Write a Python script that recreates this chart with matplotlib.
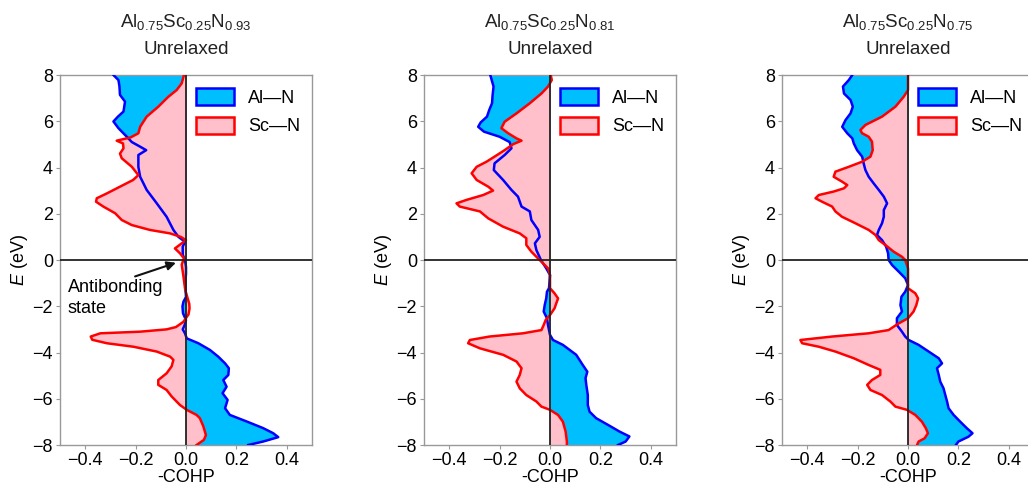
import matplotlib.pyplot as plt
from matplotlib.patches import Patch

plt.rcParams['font.family'] = ['Liberation Sans', 'DejaVu Sans']
plt.rcParams['mathtext.fontset'] = 'custom'
plt.rcParams['mathtext.rm'] = 'Liberation Sans'
plt.rcParams['mathtext.it'] = 'Liberation Sans:italic'

# Panel titles
formulas = ['0.93', '0.81', '0.75']

# Panel 1 (N 0.93)
e_aln_1 = [8, 7.78, 7.5, 7.14, 6.85, 6.42, 6.2, 5.99, 5.7, 5.33, 5.1, 4.9, 4.75, 4.54, 4.03, 3.6, 3.03,
           2.45, 1.87, 1.3, 1.0, 0.79, 0.58, 0.22, 0, -0.3, -0.6, -1.0, -1.6, -1.8, -2.0, -2.3, -2.6, -2.8,
           -3.0, -3.17, -3.39, -3.6, -3.89, -4.18, -4.47, -4.68, -4.97, -5.19, -5.48, -5.76, -6.05, -6.41,
           -6.7, -6.98, -7.27, -7.49, -7.66, -7.85, -8]
aln_1 = [-0.288, -0.268, -0.264, -0.262, -0.242, -0.248, -0.27, -0.288, -0.268, -0.235, -0.215, -0.182,
         -0.158, -0.189, -0.189, -0.182, -0.156, -0.116, -0.077, -0.05, -0.03, -0.004, -0.013, -0.013,
         -0.004, 0.0, 0.0, -0.003, 0.0, -0.01, -0.014, -0.012, 0.0, -0.005, -0.013, -0.004, 0.003, 0.049,
         0.095, 0.128, 0.155, 0.17, 0.168, 0.148, 0.161, 0.145, 0.165, 0.155, 0.174, 0.24, 0.306, 0.346,
         0.366, 0.306, 0.247]
e_scn_1 = [8, 7.64, 7.35, 7.06, 6.63, 6.2, 5.76, 5.48, 5.3, 5.16, 5.04, 4.83, 4.6, 4.4, 4.03, 3.67, 3.46,
           3.17, 2.88, 2.67, 2.52, 2.31, 2.02, 1.73, 1.51, 1.3, 1.15, 1.0, 0.86, 0.72, 0.5, 0.29, 0.07,
           -0.2, -0.72, -1.3, -1.6, -1.9, -2.1, -2.35, -2.67, -2.9, -3.0, -3.1, -3.17, -3.31, -3.45, -3.6,
           -3.75, -3.96, -4.18, -4.32, -4.6, -4.9, -5.19, -5.4, -5.62, -5.9, -6.27, -6.48, -6.7, -6.84,
           -7.2, -7.57, -7.78, -8]
scn_1 = [-0.008, -0.017, -0.037, -0.07, -0.11, -0.156, -0.182, -0.189, -0.22, -0.275, -0.25, -0.248,
         -0.262, -0.255, -0.215, -0.189, -0.21, -0.262, -0.314, -0.354, -0.357, -0.328, -0.281, -0.255,
         -0.215, -0.143, -0.063, -0.021, 0.0, -0.017, -0.044, -0.024, -0.008, -0.017, -0.01, -0.003,
         0.005, 0.013, 0.014, 0.01, -0.01, -0.04, -0.077, -0.182, -0.34, -0.378, -0.372, -0.314, -0.209,
         -0.116, -0.063, -0.05, -0.057, -0.077, -0.11, -0.11, -0.077, -0.057, -0.024, 0.003, 0.042,
         0.055, 0.069, 0.079, 0.071, 0.042]

# Panel 2 (N 0.81)
e_aln_2 = [8, 7.5, 7.1, 6.78, 6.49, 6.2, 5.95, 5.76, 5.55, 5.33, 5.1, 4.83, 4.54, 4.18, 3.89, 3.46, 3.03,
           2.74, 2.31, 2.1, 1.73, 1.3, 1.0, 0.72, 0.43, 0, -0.36, -0.65, -1.22, -1.37, -1.66, -1.95, -2.23,
           -2.52, -2.81, -3.24, -3.46, -3.67, -4.1, -4.54, -4.83, -5.11, -5.4, -5.84, -6.27, -6.56, -6.84,
           -7.13, -7.42, -7.63, -7.85, -8]
aln_2 = [-0.237, -0.224, -0.228, -0.23, -0.241, -0.25, -0.275, -0.285, -0.262, -0.2, -0.16, -0.153,
         -0.18, -0.22, -0.223, -0.186, -0.153, -0.127, -0.113, -0.08, -0.074, -0.047, -0.041, -0.06,
         -0.054, -0.036, -0.015, 0.0, -0.004, -0.012, -0.015, -0.021, -0.025, -0.012, -0.008, 0.0, 0.012,
         0.051, 0.104, 0.13, 0.148, 0.141, 0.144, 0.15, 0.15, 0.157, 0.183, 0.23, 0.276, 0.315, 0.3, 0.27]
e_scn_2 = [8, 7.78, 7.5, 7.2, 6.78, 6.34, 5.98, 5.7, 5.48, 5.26, 5.16, 5.01, 4.75, 4.47, 4.25, 4.03, 3.75,
           3.46, 3.17, 3.0, 2.81, 2.6, 2.45, 2.31, 2.1, 1.8, 1.44, 1.15, 0.94, 0.65, 0.36, 0.14, 0, -0.36,
           -0.65, -1.22, -1.44, -1.66, -1.87, -2.09, -2.38, -2.59, -2.81, -3.03, -3.17, -3.31, -3.46, -3.6,
           -3.82, -4.1, -4.39, -4.68, -4.97, -5.26, -5.55, -5.84, -6.12, -6.34, -6.48, -6.7, -6.99, -7.42,
           -7.85, -8]
scn_2 = [0.003, 0.007, -0.008, -0.034, -0.08, -0.133, -0.18, -0.193, -0.166, -0.133, -0.113, -0.146,
         -0.18, -0.22, -0.252, -0.291, -0.311, -0.291, -0.245, -0.226, -0.265, -0.331, -0.371, -0.358,
         -0.278, -0.245, -0.186, -0.12, -0.094, -0.094, -0.074, -0.054, -0.041, -0.008, 0.0, 0.0, 0.018,
         0.032, 0.025, 0.018, 0.0, -0.017, -0.025, -0.034, -0.107, -0.24, -0.318, -0.325, -0.278, -0.186,
         -0.133, -0.113, -0.12, -0.133, -0.12, -0.094, -0.054, -0.034, 0.0, 0.032, 0.051, 0.062, 0.067,
         0.067]

# Panel 3 (N 0.75)
e_aln_3 = [8, 7.78, 7.5, 7.2, 6.92, 6.63, 6.34, 6.05, 5.76, 5.48, 5.26, 5.04, 4.75, 4.47, 4.18, 3.89, 3.6,
           3.31, 3.03, 2.74, 2.45, 2.16, 1.87, 1.59, 1.3, 1.08, 0.86, 0.58, 0.29, 0, -0.22, -0.5, -0.79,
           -1.08, -1.37, -1.59, -1.95, -2.23, -2.52, -2.81, -3.1, -3.31, -3.46, -3.67, -3.96, -4.25, -4.47,
           -4.68, -4.97, -5.26, -5.55, -5.84, -6.12, -6.41, -6.7, -6.99, -7.28, -7.49, -7.64, -7.85, -8]
aln_3 = [-0.221, -0.235, -0.258, -0.254, -0.228, -0.219, -0.228, -0.248, -0.261, -0.241, -0.221, -0.215,
         -0.202, -0.182, -0.176, -0.169, -0.156, -0.136, -0.116, -0.096, -0.083, -0.096, -0.096, -0.103,
         -0.116, -0.123, -0.103, -0.087, -0.079, -0.077, -0.063, -0.037, -0.011, 0.0, -0.011, -0.026,
         -0.03, -0.024, -0.044, -0.044, -0.024, -0.011, 0.003, 0.042, 0.082, 0.122, 0.135, 0.115, 0.122,
         0.128, 0.141, 0.148, 0.155, 0.161, 0.181, 0.207, 0.234, 0.256, 0.24, 0.2, 0.19]
e_scn_3 = [8, 7.35, 7.06, 6.63, 6.2, 5.84, 5.62, 5.48, 5.33, 5.12, 4.75, 4.47, 4.25, 4.03, 3.82, 3.6, 3.39,
           3.24, 3.1, 2.96, 2.81, 2.67, 2.52, 2.31, 2.1, 1.87, 1.59, 1.3, 1.08, 0.86, 0.65, 0.36, 0.14, 0,
           -0.36, -1.22, -1.44, -1.66, -1.95, -2.23, -2.52, -2.74, -3.03, -3.17, -3.31, -3.46, -3.6, -3.75,
           -3.96, -4.25, -4.54, -4.75, -4.97, -5.19, -5.4, -5.62, -5.84, -6.12, -6.34, -6.48, -6.7, -6.99,
           -7.28, -7.49, -7.71, -7.85, -8]
scn_3 = [0.0, 0.0, -0.017, -0.05, -0.103, -0.169, -0.189, -0.182, -0.156, -0.143, -0.14, -0.149, -0.182,
         -0.235, -0.288, -0.295, -0.262, -0.241, -0.254, -0.295, -0.354, -0.367, -0.341, -0.301, -0.288,
         -0.262, -0.209, -0.156, -0.129, -0.116, -0.09, -0.057, -0.024, -0.011, 0.0, 0.0, 0.029, 0.04,
         0.033, 0.022, 0.0, -0.037, -0.077, -0.156, -0.301, -0.427, -0.42, -0.354, -0.288, -0.215, -0.156,
         -0.11, -0.11, -0.143, -0.162, -0.149, -0.103, -0.07, -0.05, -0.004, 0.029, 0.055, 0.071, 0.079,
         0.066, 0.042, 0.036]

panels = [(e_aln_1, aln_1, e_scn_1, scn_1),
          (e_aln_2, aln_2, e_scn_2, scn_2),
          (e_aln_3, aln_3, e_scn_3, scn_3)]

blue_fill, blue_line = '#00BFFF', '#0000FF'
pink_fill, red_line = '#FFC0CB', '#FF0000'

fig = plt.figure(figsize=(10.28, 4.9), dpi=100)
lefts = [60, 424, 782]

for i, (ea, a, es, s) in enumerate(panels):
    ax = fig.add_axes([lefts[i] / 1028, 45 / 490, 252 / 1028, 370 / 490])
    ax.fill_betweenx(ea, 0, a, color=blue_fill, lw=0, zorder=1)
    ax.fill_betweenx(es, 0, s, color=pink_fill, lw=0, zorder=2)
    ax.plot(a, ea, color=blue_line, lw=1.8, zorder=3, solid_joinstyle='round')
    ax.plot(s, es, color=red_line, lw=1.8, zorder=4, solid_joinstyle='round')
    ax.axvline(0, color='#222222', lw=1.3, zorder=5)
    ax.axhline(0, color='#222222', lw=1.3, zorder=5)

    ax.set_xlim(-0.5, 0.5)
    ax.set_ylim(-8, 8)
    ax.set_xticks([-0.4, -0.2, 0.0, 0.2, 0.4])
    ax.set_yticks([-8, -6, -4, -2, 0, 2, 4, 6, 8])
    ax.set_xticklabels(['\u22120.4', '\u22120.2', '0.0', '0.2', '0.4'])
    ax.set_yticklabels(['\u22128', '\u22126', '\u22124', '\u22122', '0', '2', '4', '6', '8'])
    ax.tick_params(labelsize=13, length=3, width=0.8, color='#999999', pad=2)
    for sp in ax.spines.values():
        sp.set_color('#999999')
        sp.set_linewidth(1.0)

    ax.set_xlabel('-COHP', fontsize=13, labelpad=0)
    ax.set_ylabel('$E$ (eV)', fontsize=13, labelpad=2)

    ax.text(0.5, 1.143, 'Al$_{\\mathrm{0.75}}$Sc$_{\\mathrm{0.25}}$N$_{\\mathrm{' + formulas[i] + '}}$',
            transform=ax.transAxes, ha='center', va='center', fontsize=13.5, color='#222222')
    ax.text(0.5, 1.068, 'Unrelaxed', transform=ax.transAxes, ha='center', va='center',
            fontsize=13.5, color='#222222')

    handles = [Patch(facecolor=blue_fill, edgecolor=blue_line, lw=1.8),
               Patch(facecolor=pink_fill, edgecolor=red_line, lw=1.8)]
    ax.legend(handles, ['Al\u2014N', 'Sc\u2014N'], loc='upper left', bbox_to_anchor=(0.51, 0.985),
              frameon=False, fontsize=13, handlelength=2.1, handleheight=1.1, labelspacing=0.55,
              handletextpad=0.8, borderaxespad=0.0)

    if i == 0:
        ax.annotate('Antibonding\nstate', xy=(-0.04, -0.12), xytext=(-0.47, -1.65),
                    fontsize=13, ha='left', va='center', linespacing=1.3,
                    arrowprops=dict(arrowstyle='-|>', color='#111111', lw=1.5,
                                    shrinkA=0, shrinkB=0, relpos=(0.62, 1.0)))

fig.savefig('out.png', dpi=100)
